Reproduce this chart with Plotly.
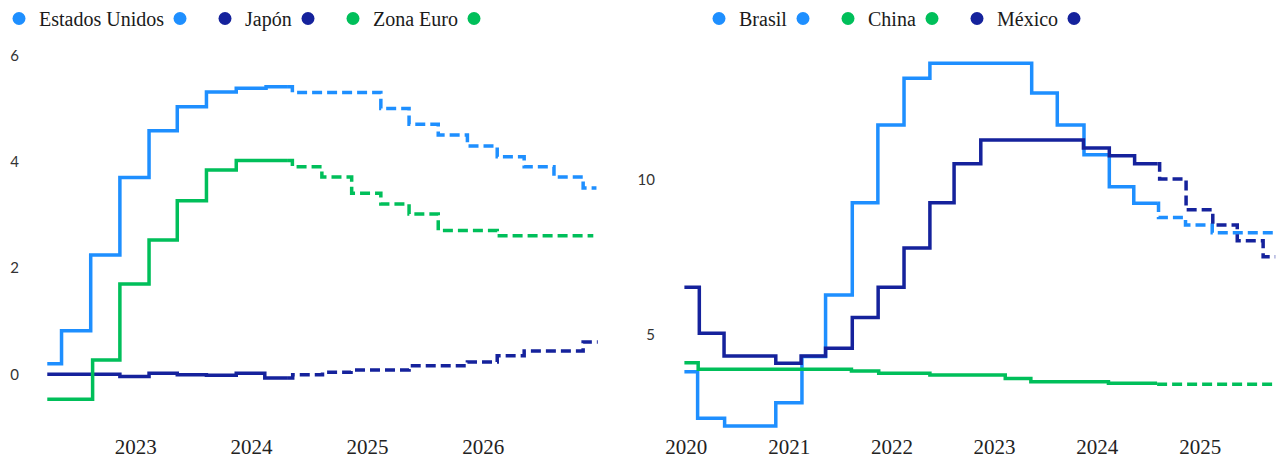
import plotly.graph_objects as go

# ---------------- Data: left panel ----------------
left_names = ["Estados Unidos", "Japón", "Zona Euro"]
left_ticks = ["2023", "2024", "2025", "2026"]

us_hist_dates = ["2022-03-28", "2022-05-12", "2022-08-12", "2022-11-12", "2023-02-12", "2023-05-12",
                 "2023-08-12", "2023-11-14", "2024-02-16", "2024-04-25"]
us_hist_vals = [0.20, 0.82, 2.25, 3.71, 4.59, 5.04, 5.32, 5.39, 5.42, 5.42]
us_proj_dates = ["2024-04-25", "2024-05-09", "2025-02-12", "2025-05-12", "2025-08-12", "2025-11-12",
                 "2026-02-14", "2026-05-10", "2026-08-12", "2026-11-12", "2026-12-24"]
us_proj_vals = [5.42, 5.31, 5.01, 4.71, 4.51, 4.30, 4.10, 3.91, 3.72, 3.51, 3.51]

jp_hist_dates = ["2022-03-28", "2022-11-12", "2023-02-12", "2023-05-12", "2023-08-12", "2023-11-14",
                 "2024-02-12", "2024-04-25"]
jp_hist_vals = [0.00, -0.04, 0.02, -0.01, -0.02, 0.02, -0.07, -0.07]
jp_proj_dates = ["2024-04-25", "2024-05-10", "2024-08-12", "2024-11-10", "2025-05-12", "2025-11-12",
                 "2026-02-14", "2026-05-10", "2026-11-12", "2026-12-28"]
jp_proj_vals = [-0.07, -0.01, 0.04, 0.08, 0.16, 0.23, 0.35, 0.44, 0.61, 0.61]

ez_hist_dates = ["2022-03-28", "2022-08-18", "2022-11-12", "2023-02-12", "2023-05-12", "2023-08-12",
                 "2023-11-14", "2024-04-25"]
ez_hist_vals = [-0.47, 0.27, 1.70, 2.53, 3.27, 3.85, 4.03, 4.03]
ez_proj_dates = ["2024-04-25", "2024-05-09", "2024-08-10", "2024-11-12", "2025-02-12", "2025-05-12",
                 "2025-08-12", "2026-02-14", "2026-12-14"]
ez_proj_vals = [4.03, 3.91, 3.72, 3.41, 3.21, 3.02, 2.71, 2.61, 2.61]

# ---------------- Data: right panel ----------------
right_names = ["Brasil", "China", "México"]
right_ticks = ["2020", "2021", "2022", "2023", "2024", "2025"]

br_hist_dates = ["2019-12-25", "2020-02-10", "2020-05-16", "2020-11-14", "2021-02-15", "2021-05-10",
                 "2021-08-13", "2021-11-12", "2022-02-13", "2022-05-16", "2023-05-13", "2023-08-12",
                 "2023-11-15", "2024-02-13", "2024-05-10", "2024-08-01"]
br_hist_vals = [3.79, 2.28, 2.03, 2.78, 4.28, 6.27, 9.26, 11.78, 13.29, 13.78, 12.81, 11.78,
                10.81, 9.78, 9.24, 9.24]
br_proj_dates = ["2024-08-01", "2024-08-06", "2024-11-10", "2025-02-13", "2025-10-03"]
br_proj_vals = [9.24, 8.78, 8.54, 8.29, 8.29]

cn_hist_dates = ["2019-12-25", "2020-02-12", "2021-08-10", "2021-11-15", "2022-05-16", "2023-02-08",
                 "2023-05-10", "2024-02-10", "2024-08-01"]
cn_hist_vals = [4.08, 3.87, 3.81, 3.74, 3.68, 3.57, 3.46, 3.41, 3.41]
cn_proj_dates = ["2024-08-01", "2025-10-03"]
cn_proj_vals = [3.38, 3.38]

mx_hist_dates = ["2019-12-25", "2020-02-16", "2020-05-14", "2020-11-14", "2021-02-12", "2021-05-10",
                 "2021-08-13", "2021-11-13", "2022-02-13", "2022-05-16", "2022-08-10", "2022-11-13",
                 "2023-11-13", "2024-02-13", "2024-05-13", "2024-08-03"]
mx_hist_vals = [6.52, 5.03, 4.30, 4.06, 4.30, 4.55, 5.54, 6.52, 7.79, 9.26, 10.52, 11.29,
                11.03, 10.78, 10.52, 10.52]
mx_proj_dates = ["2024-08-03", "2024-08-10", "2024-11-12", "2025-02-15", "2025-05-13", "2025-08-13",
                 "2025-09-25"]
mx_proj_vals = [10.52, 10.03, 9.03, 8.54, 8.03, 7.51, 7.51]

# ---------------- Styles ----------------
LIGHT = "#1E8FFF"
NAVY = "#15229C"
GREEN = "#00BF5A"
LW = 3.5
DASH = "10px,5px"
SERIF = "Liberation Serif, Times New Roman, serif"
SANS = "Lato, Carlito, sans-serif"
# legend entry widths (px) to keep the legend compact
left_lw = [116, 38, 76]
right_lw = [39, 39, 52]

fig = go.Figure()

left_series = [
    (left_names[0], LIGHT, us_hist_dates, us_hist_vals, us_proj_dates, us_proj_vals),
    (left_names[1], NAVY, jp_hist_dates, jp_hist_vals, jp_proj_dates, jp_proj_vals),
    (left_names[2], GREEN, ez_hist_dates, ez_hist_vals, ez_proj_dates, ez_proj_vals),
]
right_series = [
    (right_names[0], LIGHT, br_hist_dates, br_hist_vals, br_proj_dates, br_proj_vals),
    (right_names[1], GREEN, cn_hist_dates, cn_hist_vals, cn_proj_dates, cn_proj_vals),
    (right_names[2], NAVY, mx_hist_dates, mx_hist_vals, mx_proj_dates, mx_proj_vals),
]


def add_panel(series, widths, xa, ya, legend_id):
    for name, color, hx, hy, px, py in series:
        fig.add_trace(go.Scatter(x=hx, y=hy, mode="lines", line=dict(color=color, width=LW, shape="hv"),
                                 xaxis=xa, yaxis=ya, showlegend=False, name=name))
        fig.add_trace(go.Scatter(x=px, y=py, mode="lines",
                                 line=dict(color=color, width=LW, shape="hv", dash=DASH),
                                 xaxis=xa, yaxis=ya, showlegend=False,
                                 name=name + " (proyección)"))
    # legend entries: circle for history and for projection
    for (name, color, *_), lw in zip(series, widths):
        fig.add_trace(go.Scatter(x=[None], y=[None], mode="markers",
                                 marker=dict(color=color, size=13, symbol="circle"),
                                 xaxis=xa, yaxis=ya, name=name, legend=legend_id, legendwidth=lw))
        fig.add_trace(go.Scatter(x=[None], y=[None], mode="markers",
                                 marker=dict(color=color, size=13, symbol="circle"),
                                 xaxis=xa, yaxis=ya, name="", legend=legend_id))


add_panel(left_series, left_lw, "x", "y", "legend")
add_panel(right_series, right_lw, "x2", "y2", "legend2")

# the page body adds an 8px offset; positions below are given in screen pixels
OFF = 8
W, H = 1285, 458
ML, MR, MT, MB = 12, 13, 32, 34
PW = W - ML - MR
PH = H - MT - MB


def px_x(p_screen):
    return (p_screen - OFF - ML) / PW


xcommon = dict(type="date", showgrid=False, zeroline=False, showline=False, ticks="",
               tickfont=dict(family=SERIF, size=21, color="#222222"), automargin=False)
ycommon = dict(showgrid=False, zeroline=False, showline=False, ticks="",
               tickfont=dict(family=SANS, size=15, color="#333333"), automargin=False)

legend_common = dict(orientation="h", xanchor="center", y=1 + (MT + 9) / PH, yanchor="top",
                     font=dict(family=SERIF, size=20, color="#1a1a1a"), bgcolor="rgba(0,0,0,0)",
                     itemwidth=30, traceorder="normal")

fig.update_layout(
    width=W, height=H, autosize=False,
    template="none",
    paper_bgcolor="white", plot_bgcolor="white",
    margin=dict(l=ML, r=MR, t=MT, b=MB, pad=0, autoexpand=False),
    xaxis=dict(xcommon, domain=[0, px_x(599)], range=["2022-01-01", "2027-01-01"],
               tickvals=[t + "-01-01" for t in left_ticks], ticktext=left_ticks, anchor="y"),
    yaxis=dict(ycommon, domain=[0, 1], range=[-1.088, 6.30], tickvals=[0, 2, 4, 6], anchor="x"),
    xaxis2=dict(xcommon, domain=[px_x(656), 1], range=["2019-09-15", "2025-10-12"],
                tickvals=[t + "-01-01" for t in right_ticks], ticktext=right_ticks, anchor="y2"),
    yaxis2=dict(ycommon, domain=[0, 1], range=[1.835, 14.53], tickvals=[5, 10], anchor="x2"),
    legend=dict(legend_common, x=px_x(249)),
    legend2=dict(legend_common, x=px_x(899)),
    showlegend=True,
)

fig.write_html("out.html")
